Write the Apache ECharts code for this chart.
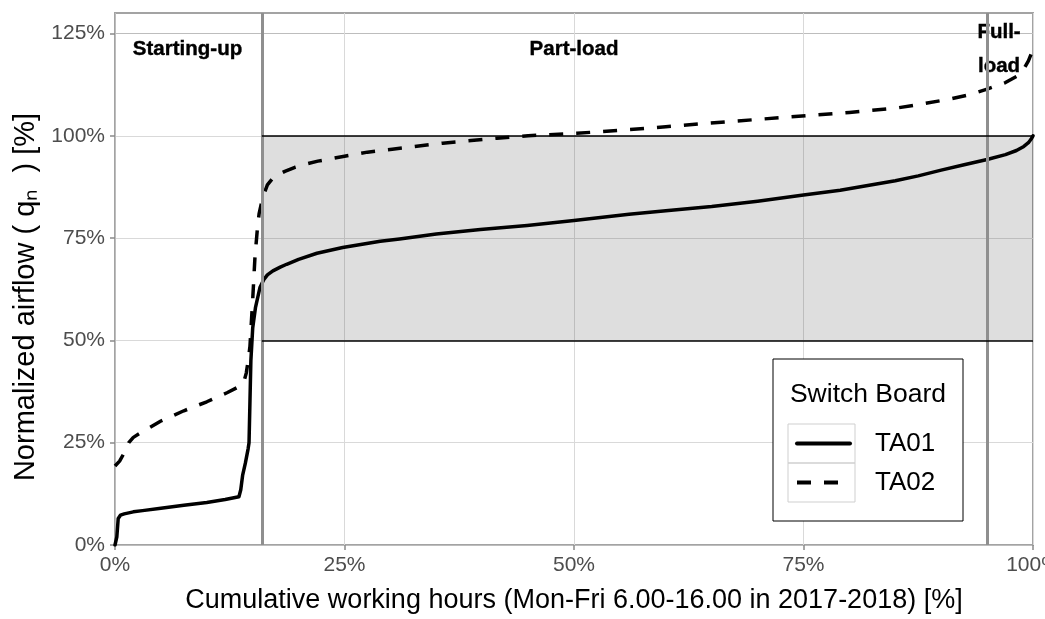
<!DOCTYPE html>
<html><head><meta charset="utf-8">
<script src="https://cdn.jsdelivr.net/npm/echarts@6/dist/echarts.min.js"></script>
<style>html,body{margin:0;padding:0;background:#fff}#c{width:1045px;height:619px}</style>
</head><body><div id="c"></div>
<script>
// ---- data ----
const ta01X = [0,0.2,0.35,0.6,1,2,3,5,7.5,10,12,13.5,13.7,13.9,14.2,14.5,14.6,14.7,14.8,15.0,15.3,15.8,16.2,16.6,17.2,18,18.7,20,22,24.8,28.9,31,35,39.8,44.9,50,56,60,65,70,75,79,85,87.5,90,92.5,95,97,98.2,99,99.5,99.8,100];
const ta01Y = [0,2,6.5,7.3,7.6,8.1,8.4,9.0,9.7,10.4,11.1,11.8,13.5,17,20,23.5,25,35,45,53,58,63,64.8,66,67,67.9,68.6,69.8,71.3,72.7,74.2,74.8,76,77.1,78.1,79.3,80.8,81.7,82.7,84,85.5,86.7,89,90.2,91.6,92.9,94.2,95.4,96.4,97.4,98.3,99.2,100];
const ta02X = [0,0.5,1,1.5,2,3,5,7.5,10,12.2,13.5,14,14.3,14.5,14.7,15,15.25,15.5,15.7,16.1,16.6,17.1,17.6,18.5,19.6,21,22.1,25,27.5,30.2,35.7,41.6,45,50.3,56,60,64.8,70.6,76.5,80,85.2,88,91,93,95,96,97,98.3,99,99.5,99.8,100];
const ta02Y = [19.3,20.5,22.5,25,26.3,27.7,30.3,32.8,35,37.2,38.7,39.6,42,45,48.5,60,70.5,77,81,85,88,89.4,90.3,91.3,92.3,93.2,93.8,95,96,96.7,98.2,99.4,100,100.6,101.5,102.2,103.1,104.1,105.1,105.7,106.8,107.8,109,110,111.4,112.2,113,114.6,116.3,118.3,120,122];
const seriesNames = ['TA01','TA02'];
const xTicks = [0,25,50,75,100];
const yTicks = [0,25,50,75,100,125];
const phaseLines = [16,95];
const bandX = [16,100];
const bandY = [50,100];
const annoText = ['Starting-up','Part-load','Full-\nload'];
const annoX = [7.9,50,96.3];
const annoY = [121,121,121];
const legendTitle = 'Switch Board';
const xTitle = 'Cumulative working hours (Mon-Fri 6.00-16.00 in 2017-2018) [%]';
const yTitle = 'Normalized airflow ( q\u2099  ) [%]';

// ---- chart ----
const FONT = "'Liberation Sans',Arial,sans-serif";
const MAJOR = '#bdbdbd', MINOR = '#d9d9d9';
const gridColors = [MAJOR, MINOR, MINOR, MINOR, MINOR];
const zip = (a, b) => a.map((v, i) => [v, b[i]]);

const chart = echarts.init(document.getElementById('c'), null, {renderer: 'canvas'});
chart.setOption({
  animation: false,
  backgroundColor: '#fff',
  textStyle: {fontFamily: FONT},
  grid: {left: 115, right: 12, top: 13, bottom: 74, containLabel: false, outerBoundsMode: 'none',
    show: true, borderColor: '#a3a3a3', borderWidth: 2, backgroundColor: 'transparent'},
  xAxis: {
    type: 'value', min: 0, max: 100, interval: 5,
    axisLine: {show: false},
    axisTick: {show: true, customValues: xTicks, length: 5, lineStyle: {color: '#8a8a8a', width: 1.5}},
    axisLabel: {customValues: xTicks, formatter: v => v + '%', color: '#4d4d4d', fontSize: 21, fontFamily: FONT, margin: 10},
    splitLine: {show: true, lineStyle: {color: gridColors, width: 1}},
    name: xTitle, nameLocation: 'middle', nameGap: 42,
    nameTextStyle: {fontSize: 27, color: '#000', fontFamily: FONT}
  },
  yAxis: {
    type: 'value', min: 0, max: 130, interval: 5,
    axisLine: {show: false},
    axisTick: {show: true, customValues: yTicks, length: 5, lineStyle: {color: '#8a8a8a', width: 1.5}},
    axisLabel: {customValues: yTicks, formatter: v => v + '%', color: '#4d4d4d', fontSize: 21, fontFamily: FONT, margin: 10},
    splitLine: {show: true, lineStyle: {color: gridColors, width: 1}},
    name: yTitle, nameLocation: 'middle', nameGap: 75, nameRotate: 90,
    nameTextStyle: {fontSize: 29, color: '#000', fontFamily: FONT, padding: [0, 36, 0, 0]}
  },
  legend: {
    orient: 'vertical', left: 790, top: 419, padding: 5,
    itemWidth: 53, itemHeight: 39, itemGap: 0, selectedMode: false,
    itemStyle: {opacity: 0},
    lineStyle: {width: 4},
    data: seriesNames,
    textStyle: {fontSize: 26, color: '#000', fontFamily: FONT, padding: [0, 0, 0, 20], lineHeight: 39}
  },
  graphic: [
    {type: 'rect', z: 3, shape: {x: 773, y: 359, width: 190, height: 162}, style: {fill: '#fff', stroke: '#000', lineWidth: 1}},
    {type: 'text', z: 5, x: 868, y: 395, style: {text: legendTitle, fontSize: 26.5, fontFamily: FONT, fill: '#000', textAlign: 'center', textVerticalAlign: 'middle'}},
    {type: 'rect', z: 5, shape: {x: 788, y: 424, width: 67, height: 39}, style: {fill: 'none', stroke: '#cfcfcf', lineWidth: 1}},
    {type: 'rect', z: 5, shape: {x: 788, y: 463, width: 67, height: 39}, style: {fill: 'none', stroke: '#cfcfcf', lineWidth: 1}}
  ],
  series: [
    {
      type: 'line', name: '_marks', data: [], z: 1, silent: true,
      markArea: {silent: true, itemStyle: {color: 'rgba(0,0,0,0.13)'},
        data: [[{xAxis: bandX[0], yAxis: bandY[0]}, {xAxis: bandX[1], yAxis: bandY[1]}]]},
      markLine: {silent: true, symbol: 'none', label: {show: false},
        data: [
          ...phaseLines.map(v => ({xAxis: v, lineStyle: {color: '#8f8f8f', width: 3, type: 'solid'}})),
          ...bandY.map(v => [{coord: [bandX[0], v], lineStyle: {color: '#000', width: 1.5, type: 'solid'}}, {coord: [bandX[1], v]}])
        ]}
    },
    {type: 'line', name: seriesNames[0], data: zip(ta01X, ta01Y), showSymbol: false, symbol: 'none', z: 3,
      lineStyle: {color: '#000', width: 3.5, type: 'solid', join: 'round', cap: 'round'}, itemStyle: {color: '#000'}},
    {type: 'line', name: seriesNames[1], data: zip(ta02X, ta02Y), showSymbol: false, symbol: 'none', z: 3,
      lineStyle: {color: '#000', width: 3.5, type: [14, 13], join: 'round'}, itemStyle: {color: '#000'}},
    {type: 'scatter', name: '_anno', symbolSize: 0, silent: true, z: 4,
      itemStyle: {opacity: 1},
      data: annoX.map((x, i) => ({value: [x, annoY[i]], label: {formatter: annoText[i]}})),
      label: {show: true, position: 'inside', color: '#000', opacity: 1, fontSize: 20.5, fontWeight: 'bold', fontFamily: FONT,
        lineHeight: 34, align: 'center', verticalAlign: 'middle', textBorderColor: '#000', textBorderWidth: 0.4}}
  ]
});
</script></body></html>
